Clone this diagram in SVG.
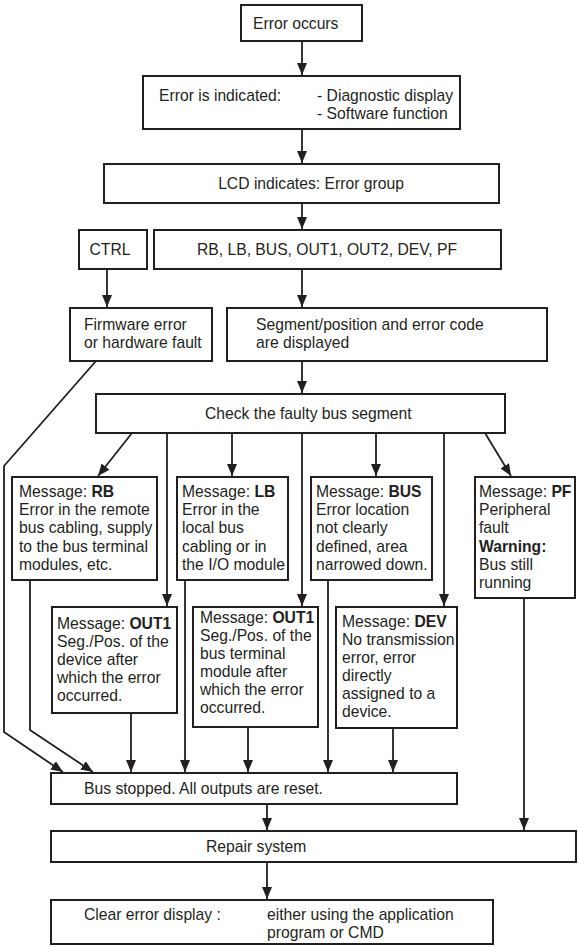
<svg xmlns="http://www.w3.org/2000/svg" width="578" height="947" viewBox="0 0 578 947">
  <defs>
    <marker id="arrow" markerUnits="userSpaceOnUse" markerWidth="12" markerHeight="10" refX="12" refY="5" orient="auto">
      <path d="M0,0 L12,5 L0,10 z" fill="#231f20"/>
    </marker>
    <style>
      .box { fill: #ffffff; stroke: #231f20; stroke-width: 2; }
      .t { font-family: "Liberation Sans", Arial, sans-serif; font-size: 15.7px; fill: #231f20; }
      .c { text-anchor: middle; }
      .b { font-weight: bold; }
      .ln { fill: none; stroke: #231f20; stroke-width: 1.8; }
      .ar { fill: none; stroke: #231f20; stroke-width: 1.8; marker-end: url(#arrow); }
    </style>
  </defs>
  <rect width="578" height="947" fill="#ffffff"/>

  <!-- connectors -->
  <g id="connectors">
    <line class="ar" x1="302" y1="41" x2="302" y2="75"/>
    <line class="ar" x1="302" y1="129" x2="302" y2="163"/>
    <line class="ar" x1="302" y1="203" x2="302" y2="229"/>
    <line class="ar" x1="107" y1="269" x2="107" y2="307"/>
    <line class="ar" x1="302" y1="269" x2="302" y2="307"/>
    <line class="ar" x1="302" y1="361" x2="302" y2="393"/>
    <!-- from the check box to the messages -->
    <line class="ar" x1="132" y1="433" x2="98" y2="476"/>
    <line class="ar" x1="167" y1="433" x2="167" y2="606"/>
    <line class="ar" x1="232" y1="433" x2="232" y2="476"/>
    <line class="ar" x1="302" y1="433" x2="302" y2="606"/>
    <line class="ar" x1="376" y1="433" x2="376" y2="476"/>
    <line class="ar" x1="444" y1="433" x2="444" y2="606"/>
    <line class="ar" x1="485" y1="433" x2="511" y2="476"/>
    <!-- into the bus stopped box -->
    <polyline class="ar" points="96,361 4,466 4,732 63,772"/>
    <polyline class="ar" points="30,580 30,730 93,772"/>
    <line class="ar" x1="131" y1="713" x2="131" y2="772"/>
    <line class="ar" x1="185" y1="580" x2="185" y2="772"/>
    <line class="ar" x1="248" y1="727" x2="248" y2="772"/>
    <line class="ar" x1="328" y1="580" x2="328" y2="772"/>
    <line class="ar" x1="393" y1="728" x2="393" y2="772"/>
    <!-- to repair / clear -->
    <line class="ar" x1="524" y1="598" x2="524" y2="830"/>
    <line class="ar" x1="267" y1="804" x2="267" y2="830"/>
    <line class="ar" x1="267" y1="862" x2="267" y2="899"/>
  </g>

  <g id="error-occurs">
    <rect class="box" x="241" y="5" width="121" height="36"/>
    <text class="t" x="253" y="28.5">Error occurs</text>
  </g>

  <g id="error-indicated">
    <rect class="box" x="143" y="76" width="317" height="53"/>
    <text class="t" x="159" y="100.5">Error is indicated:</text>
    <text class="t" x="317" y="100.5">- Diagnostic display</text>
    <text class="t" x="317" y="118.5">- Software function</text>
  </g>

  <g id="lcd">
    <rect class="box" x="104" y="164" width="395" height="39"/>
    <text class="t c" x="311" y="188.5">LCD indicates: Error group</text>
  </g>

  <g id="ctrl">
    <rect class="box" x="79" y="230" width="68" height="39"/>
    <text class="t c" x="110" y="255">CTRL</text>
  </g>

  <g id="groups">
    <rect class="box" x="154" y="230" width="347" height="39"/>
    <text class="t c" x="327" y="255">RB, LB, BUS, OUT1, OUT2, DEV, PF</text>
  </g>

  <g id="firmware">
    <rect class="box" x="70" y="308" width="142" height="53"/>
    <text class="t" x="84" y="329.5">Firmware error</text>
    <text class="t" x="84" y="347.5">or hardware fault</text>
  </g>

  <g id="segment">
    <rect class="box" x="227" y="308" width="320" height="53"/>
    <text class="t" x="256" y="329.5">Segment/position and error code</text>
    <text class="t" x="256" y="347.5">are displayed</text>
  </g>

  <g id="check">
    <rect class="box" x="96" y="394" width="409" height="39"/>
    <text class="t" x="205" y="418.5">Check the faulty bus segment</text>
  </g>

  <g id="msg-rb">
    <rect class="box" x="12" y="477" width="145" height="103"/>
    <text class="t" x="19" y="497">Message: <tspan class="b">RB</tspan></text>
    <text class="t" x="19" y="515.2">Error in the remote</text>
    <text class="t" x="19" y="533.4">bus cabling, supply</text>
    <text class="t" x="19" y="551.6">to the bus terminal</text>
    <text class="t" x="19" y="569.8">modules, etc.</text>
  </g>

  <g id="msg-lb">
    <rect class="box" x="177" y="477" width="111" height="103"/>
    <text class="t" x="182" y="497">Message: <tspan class="b">LB</tspan></text>
    <text class="t" x="182" y="515.2">Error in the</text>
    <text class="t" x="182" y="533.4">local bus</text>
    <text class="t" x="182" y="551.6">cabling or in</text>
    <text class="t" x="182" y="569.8">the I/O module</text>
  </g>

  <g id="msg-bus">
    <rect class="box" x="311" y="477" width="121" height="103"/>
    <text class="t" x="316" y="497">Message: <tspan class="b">BUS</tspan></text>
    <text class="t" x="316" y="515.2">Error location</text>
    <text class="t" x="316" y="533.4">not clearly</text>
    <text class="t" x="316" y="551.6">defined, area</text>
    <text class="t" x="316" y="569.8">narrowed down.</text>
  </g>

  <g id="msg-pf">
    <rect class="box" x="475" y="477" width="100" height="121"/>
    <text class="t" x="479" y="497">Message: <tspan class="b">PF</tspan></text>
    <text class="t" x="479" y="515.2">Peripheral</text>
    <text class="t" x="479" y="533.4">fault</text>
    <text class="t b" x="479" y="551.6">Warning:</text>
    <text class="t" x="479" y="569.8">Bus still</text>
    <text class="t" x="479" y="588">running</text>
  </g>

  <g id="msg-out1-device">
    <rect class="box" x="52" y="607" width="125" height="106"/>
    <text class="t" x="57" y="628.5">Message: <tspan class="b">OUT1</tspan></text>
    <text class="t" x="57" y="646.7">Seg./Pos. of the</text>
    <text class="t" x="57" y="664.9">device after</text>
    <text class="t" x="57" y="683.1">which the error</text>
    <text class="t" x="57" y="701.3">occurred.</text>
  </g>

  <g id="msg-out1-module">
    <rect class="box" x="193" y="607" width="125" height="120"/>
    <text class="t" x="200" y="623">Message: <tspan class="b">OUT1</tspan></text>
    <text class="t" x="200" y="641">Seg./Pos. of the</text>
    <text class="t" x="200" y="659">bus terminal</text>
    <text class="t" x="200" y="677">module after</text>
    <text class="t" x="200" y="695">which the error</text>
    <text class="t" x="200" y="713">occurred.</text>
  </g>

  <g id="msg-dev">
    <rect class="box" x="336" y="607" width="121" height="121"/>
    <text class="t" x="342" y="627">Message: <tspan class="b">DEV</tspan></text>
    <text class="t" x="342" y="645">No transmission</text>
    <text class="t" x="342" y="663">error, error</text>
    <text class="t" x="342" y="681">directly</text>
    <text class="t" x="342" y="699">assigned to a</text>
    <text class="t" x="342" y="717">device.</text>
  </g>

  <g id="bus-stopped">
    <rect class="box" x="51" y="773" width="406" height="31"/>
    <text class="t" x="84" y="794">Bus stopped. All outputs are reset.</text>
  </g>

  <g id="repair">
    <rect class="box" x="51" y="831" width="525" height="31"/>
    <text class="t" x="206" y="852">Repair system</text>
  </g>

  <g id="clear">
    <rect class="box" x="51" y="900" width="442" height="44"/>
    <text class="t" x="84" y="920">Clear error display :</text>
    <text class="t" x="267" y="920">either using the application</text>
    <text class="t" x="267" y="938">program or CMD</text>
  </g>
</svg>
